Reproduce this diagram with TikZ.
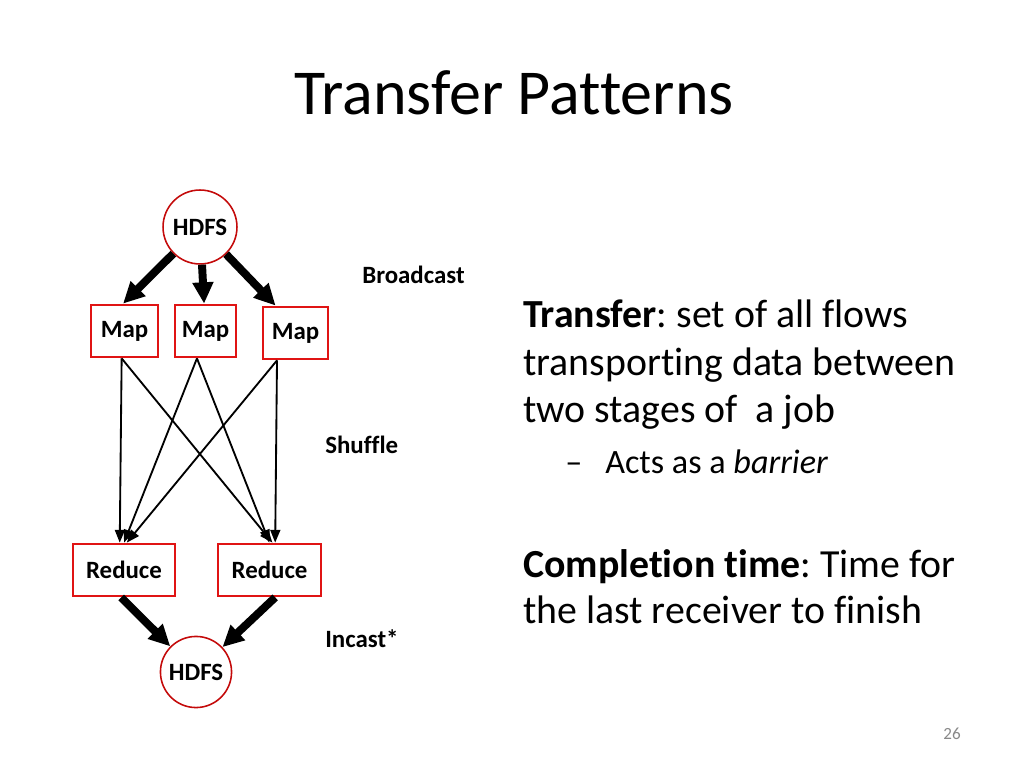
\documentclass[tikz,border=0pt]{standalone}
\usepackage{fontspec}
\setmainfont{Carlito}[Ligatures=NoCommon]
\usetikzlibrary{arrows.meta}
\frenchspacing

\definecolor{taskred}{RGB}{224,20,20}
\definecolor{storered}{RGB}{196,10,10}
\definecolor{pagegray}{RGB}{137,137,137}

\tikzset{
    store/.style={circle, draw=storered, line width=1.1pt, fill=white,
        minimum size=52pt, inner sep=0pt, font=\fontsize{17.5}{21}\selectfont\bfseries},
    task/.style={rectangle, draw=taskred, line width=1.5pt, minimum height=37pt,
        inner sep=0pt, font=\fontsize{17.5}{21}\selectfont\bfseries},
    bulk/.style={-{Triangle[length=15pt,width=14pt]}, line width=5.6pt},
    flow/.style={-{Triangle[length=9pt,width=7pt]}, line width=1.3pt},
    stage/.style={anchor=base west, inner sep=0pt, font=\fontsize{17.5}{21}\selectfont\bfseries},
    body/.style={anchor=base west, inner sep=0pt, font=\fontsize{28}{33}\selectfont},
    subbody/.style={anchor=base west, inner sep=0pt, font=\fontsize{24}{29}\selectfont},
}

\begin{document}
\begin{tikzpicture}[x=0.703125pt,y=-0.703125pt]
    % Marco de la diapositiva.
    \useasboundingbox[fill=white] (0,0) rectangle (1024,768);

    % Titulo y numero de pagina.
    \node[anchor=base, inner sep=0pt, font=\fontsize{45}{54}\selectfont] (title) at (514,115) {Transfer Patterns};
    \node[anchor=base, inner sep=0pt, text=pagegray, font=\fontsize{12}{14}\selectfont] (page) at (952,739) {26};

    % Almacenes y tareas.
    \node[store] (hdfsin) at (200,227) {HDFS};
    \node[task, minimum width=47pt] (map1) at (124.5,331) {Map};
    \node[task, minimum width=43pt] (map2) at (205.5,331) {Map};
    \node[task, minimum width=46pt] (map3) at (295.5,333) {Map};
    \node[task, minimum width=72pt] (red1) at (124,570) {Reduce};
    \node[task, minimum width=72pt] (red2) at (269.5,570) {Reduce};
    \node[store, minimum size=50pt] (hdfsout) at (196,672) {HDFS};

    % Difusion desde HDFS.
    \draw[bulk] (hdfsin) -- ([xshift=-1pt]map1.north);
    \draw[bulk] (hdfsin) -- ([xshift=-1pt]map2.north);
    \draw[bulk] (hdfsin) -- ([xshift=-14pt]map3.north);

    % Barajado entre Map y Reduce.
    \draw[flow] ([xshift=-2pt]map1.south) -- ([xshift=-3pt]red1.north);
    \draw[flow] ([xshift=-2pt]map1.south) -- ([xshift=2pt]red2.north);
    \draw[flow] ([xshift=-6pt]map2.south) -- (red1.north);
    \draw[flow] ([xshift=-6pt]map2.south) -- (red2.north);
    \draw[flow] ([xshift=-13pt]map3.south) -- ([xshift=2pt]red1.north);
    \draw[flow] ([xshift=-13pt]map3.south) -- ([xshift=4pt]red2.north);

    % Incast hacia HDFS.
    \draw[bulk] ([xshift=-2pt]red1.south) -- (hdfsout);
    \draw[bulk] ([xshift=4pt]red2.south) -- (hdfsout);

    % Etiquetas de las etapas.
    \node[stage] (lbcast) at (362,283) {Broadcast};
    \node[stage] (lshuffle) at (325,453) {Shuffle};
    \node[stage] (lincast) at (325,647) {Incast*};

    % Texto de la derecha.
    \node[body] (tline1) at (523,328) {\textbf{Transfer}: set of all flows};
    \node[body] (tline2) at (523,375) {transporting data between};
    \node[body] (tline3) at (523,422) {two stages of\ \ a job};
    \node[subbody] (sdash) at (565,473) {--};
    \node[subbody] (sline) at (605,473) {Acts as a \textit{barrier}};
    \node[body] (cline1) at (523,577) {\textbf{Completion time}: Time for};
    \node[body] (cline2) at (523,623) {the last receiver to finish};
\end{tikzpicture}
\end{document}
